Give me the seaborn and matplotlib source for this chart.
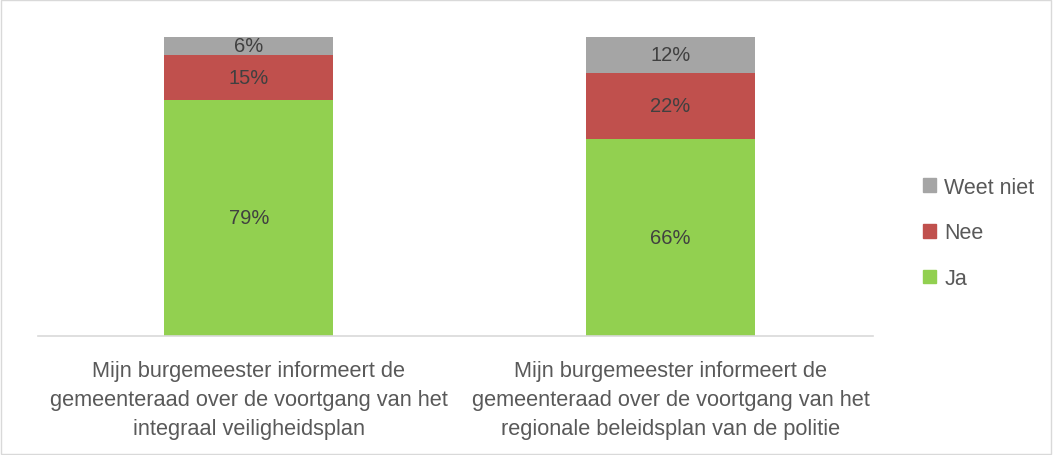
import matplotlib
matplotlib.use("Agg")
import matplotlib.pyplot as plt
from matplotlib.patches import Patch
import numpy as np
import pandas as pd
import seaborn as sns

categories = [
    "Mijn burgemeester informeert de\ngemeenteraad over de voortgang van het\nintegraal veiligheidsplan",
    "Mijn burgemeester informeert de\ngemeenteraad over de voortgang van het\nregionale beleidsplan van de politie",
]
ja = [79, 66]
nee = [15, 22]
weet_niet = [6, 12]

colors = {"Ja": "#92D050", "Nee": "#C0504D", "Weet niet": "#A5A5A5"}

sns.set_style("white")
plt.rcParams["font.family"] = ["Liberation Sans", "DejaVu Sans"]

df = pd.DataFrame({"cat": categories, "Ja": ja, "Nee": nee, "Weet niet": weet_niet})
df["c_ja"] = df["Ja"]
df["c_nee"] = df["Ja"] + df["Nee"]
df["c_all"] = df["c_nee"] + df["Weet niet"]

fig = plt.figure(figsize=(10.53, 4.56), dpi=100)
ax = fig.add_axes([0.036, 0.261, 0.793, 0.656])

# stack by drawing cumulative totals from the top down
for col, key in [("c_all", "Weet niet"), ("c_nee", "Nee"), ("c_ja", "Ja")]:
    sns.barplot(data=df, x="cat", y=col, color=colors[key], width=0.4,
                saturation=1, linewidth=0, ax=ax)

# segment labels
for i, row in df.iterrows():
    lows = [0, row["c_ja"], row["c_nee"]]
    vals = [row["Ja"], row["Nee"], row["Weet niet"]]
    for lo, v in zip(lows, vals):
        ax.text(i, lo + v / 2, f"{v}%", ha="center", va="center",
                fontsize=14.5, color="#404040")

ax.set_ylim(0, 100)
ax.set_xlim(-0.5, 1.48)
ax.set_xlabel("")
ax.set_ylabel("")
ax.set_yticks([])
ax.tick_params(axis="x", length=0, pad=17, labelsize=15.7, colors="#595959")
for lbl in ax.get_xticklabels():
    lbl.set_linespacing(1.5)
for s in ["top", "left", "right"]:
    ax.spines[s].set_visible(False)
ax.spines["bottom"].set_color("#D9D9D9")
ax.spines["bottom"].set_linewidth(1.2)

handles = [Patch(color=colors[k]) for k in ["Weet niet", "Nee", "Ja"]]
leg = fig.legend(handles, ["Weet niet", "Nee", "Ja"], loc="center left",
                 bbox_to_anchor=(0.858, 0.487), frameon=False, fontsize=15.5,
                 handlelength=0.6, handleheight=0.6, handletextpad=0.4,
                 labelspacing=1.15)
for t in leg.get_texts():
    t.set_color("#595959")

# light outer border like the original chart area
fig.patches.append(plt.Rectangle((0.001, 0.002), 0.997, 0.996, transform=fig.transFigure,
                                 fill=False, edgecolor="#D9D9D9", linewidth=1))

fig.savefig("out.png", dpi=100)
